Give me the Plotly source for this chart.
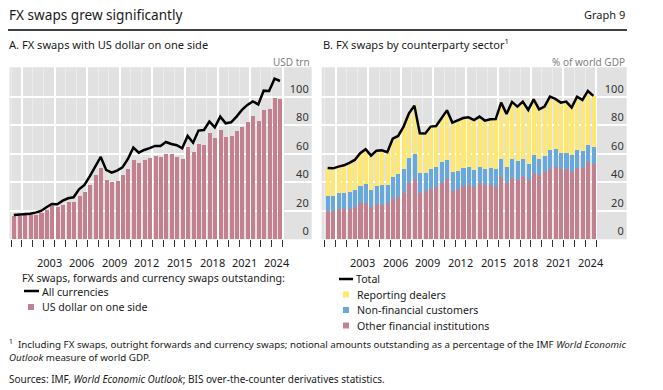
import plotly.graph_objects as go

W, H = 663, 390

# ---------------- data ----------------
years = list(range(2000, 2025))
halves = ["H1", "H2"]
periods = [f"{y}-{h}" for y in years for h in halves]

# Panel A: USD trn
usd_one_side = [15.9, 15.9, 16.6, 16.6, 17.1, 18.0, 20.6, 22.9, 22.2, 24.1,
                25.7, 25.7, 30.4, 32.7, 37.7, 44.7, 49.6, 41.2, 39.8, 40.5,
                44.7, 49.1, 55.2, 53.1, 55.2, 56.6, 58.5, 57.8, 59.9, 59.9,
                57.3, 55.9, 64.3, 60.8, 66.9, 66.2, 74.2, 70.6, 76.7, 71.8,
                72.5, 75.6, 78.4, 81.9, 86.1, 83.0, 90.8, 91.5, 99.2, 98.5]
all_currencies = [17.1, 17.3, 17.8, 18.0, 18.7, 19.9, 22.5, 24.8, 24.6, 27.1,
                  28.8, 29.5, 35.1, 38.1, 44.4, 51.5, 57.8, 48.7, 46.8, 48.2,
                  50.5, 56.4, 64.3, 60.8, 62.7, 64.0, 65.5, 65.5, 68.3, 66.9,
                  66.0, 63.9, 72.5, 67.8, 76.3, 76.7, 82.6, 78.6, 86.1, 81.4,
                  82.1, 86.1, 90.8, 94.3, 96.8, 94.7, 104.3, 104.1, 112.7, 111.1]

# Panel B: % of world GDP
other_financial = [19.9, 19.9, 21.1, 20.8, 20.8, 22.7, 25.0, 25.5, 22.7, 24.8,
                   24.1, 25.5, 28.3, 29.2, 32.5, 39.5, 41.9, 32.5, 33.5, 34.9,
                   36.3, 39.1, 41.9, 33.9, 35.3, 37.4, 37.7, 36.7, 39.1, 37.7,
                   37.7, 36.7, 43.7, 39.1, 43.0, 41.6, 44.4, 41.6, 46.5, 45.1,
                   47.3, 49.4, 50.8, 49.4, 48.9, 47.3, 50.1, 50.1, 54.3, 52.9]
non_financial = [10.5, 10.5, 11.4, 11.7, 12.4, 11.9, 12.4, 13.3, 11.9, 12.6,
                 14.0, 12.6, 15.4, 16.6, 16.9, 17.6, 18.0, 14.0, 13.0, 14.5,
                 14.5, 15.2, 13.8, 13.4, 12.7, 12.7, 13.1, 12.0, 11.7, 11.7,
                 12.4, 12.7, 12.7, 11.7, 13.4, 13.4, 12.0, 11.3, 12.7, 11.3,
                 11.2, 13.3, 12.6, 11.2, 11.7, 11.6, 12.6, 11.9, 11.9, 11.9]
reporting_dealers = [19.7, 19.4, 18.5, 19.4, 20.4, 21.1, 23.0, 24.4, 24.1, 24.8,
                     24.4, 23.0, 26.9, 26.7, 29.7, 31.3, 33.9, 27.9, 27.7, 29.7,
                     28.7, 30.6, 34.8, 34.6, 35.3, 35.0, 34.8, 35.0, 35.3, 33.9,
                     34.1, 35.0, 39.5, 37.2, 40.0, 38.1, 40.2, 37.9, 39.0, 34.8,
                     34.6, 37.4, 35.1, 35.3, 36.0, 33.5, 37.4, 35.8, 37.9, 35.8]
total = [50.1, 49.8, 51.0, 51.9, 53.6, 55.7, 60.4, 63.2, 58.7, 62.2,
         62.5, 61.1, 70.6, 72.5, 79.1, 88.4, 93.8, 74.4, 74.2, 79.1,
         79.5, 84.9, 90.5, 81.9, 83.3, 85.1, 85.6, 83.7, 86.1, 83.3,
         84.2, 84.4, 95.9, 88.0, 96.4, 93.1, 96.6, 90.8, 98.2, 91.2,
         93.1, 100.1, 98.5, 95.9, 96.6, 92.4, 100.1, 97.8, 104.1, 100.6]

year_labels = ["2003", "2006", "2009", "2012", "2015", "2018", "2021", "2024"]
y_ticks = [0, 20, 40, 60, 80, 100]

# ---------------- style ----------------
FONT = "Noto Sans, Open Sans, sans-serif"
BG = "#e1e1e1"
PINK = "#c3808e"
BLUE = "#67a9dd"
YELLOW = "#ffe870"
TXT = "#1a1a1a"

# half-year slot centres on a continuous year axis
xpos = [int(p[:4]) + (0.25 if p.endswith("H1") else 0.75) for p in periods]
BW = 0.37


def px(x):
    return x / W


def py(y):
    return 1 - y / H


fig = go.Figure()

# Panel A
fig.add_trace(go.Bar(x=xpos, y=usd_one_side, width=BW, name="US dollar on one side",
                     marker=dict(color=PINK, line=dict(width=0)),
                     xaxis="x", yaxis="y", showlegend=False))
fig.add_trace(go.Scatter(x=xpos, y=all_currencies, mode="lines", name="All currencies",
                         line=dict(color="black", width=2.5),
                         xaxis="x", yaxis="y", showlegend=False))

# Panel B
fig.add_trace(go.Bar(x=xpos, y=other_financial, width=BW, name="Other financial institutions",
                     marker=dict(color=PINK, line=dict(width=0)),
                     xaxis="x2", yaxis="y2", showlegend=False))
fig.add_trace(go.Bar(x=xpos, y=non_financial, width=BW, name="Non-financial customers",
                     marker=dict(color=BLUE, line=dict(width=0)),
                     xaxis="x2", yaxis="y2", showlegend=False))
fig.add_trace(go.Bar(x=xpos, y=reporting_dealers, width=BW, name="Reporting dealers",
                     marker=dict(color=YELLOW, line=dict(width=0)),
                     xaxis="x2", yaxis="y2", showlegend=False))
fig.add_trace(go.Scatter(x=xpos, y=total, mode="lines", name="Total",
                         line=dict(color="black", width=2.5),
                         xaxis="x2", yaxis="y2", showlegend=False))

year_edges = list(range(2000, 2026))
major_grid = list(range(2001, 2026, 3))


def xaxis_cfg(domain, rng, anchor):
    return dict(domain=domain, range=rng, anchor=anchor,
                tickmode="array", tickvals=major_grid, showticklabels=False,
                ticks="outside", ticklen=7, tickwidth=1.2, tickcolor="#333",
                showgrid=True, gridcolor="white", gridwidth=1.5,
                zeroline=False, showline=False,
                minor=dict(tickmode="array", tickvals=year_edges, ticks="outside",
                           ticklen=7, tickwidth=1.2, tickcolor="#333",
                           showgrid=True, gridcolor="#ececec", gridwidth=1))


def yaxis_cfg(domain, anchor):
    return dict(domain=domain, range=[0, 120.7], anchor=anchor, side="right",
                tickmode="array", tickvals=y_ticks, ticklabelposition="inside top",
                tickfont=dict(size=11, color="#333", family=FONT),
                showgrid=True, gridcolor="white", gridwidth=1.5,
                zeroline=False, showline=False, ticks="")


ydom = [py(239.3), py(67.3)]
fig.update_layout(
    width=W, height=H,
    margin=dict(l=0, r=0, t=0, b=0),
    paper_bgcolor="white", plot_bgcolor=BG,
    barmode="stack", bargap=0,
    font=dict(family=FONT, color=TXT),
    xaxis=xaxis_cfg([px(9.5), px(311.7)], [1999.85, 2027.67], "y"),
    yaxis=yaxis_cfg(ydom, "x"),
    xaxis2=xaxis_cfg([px(321.7), px(626.7)], [1999.70, 2027.83], "y2"),
    yaxis2=yaxis_cfg(ydom, "x2"),
    showlegend=False,
)

ann = []


def text(x, y, s, size, anchor="left", color=TXT, xref="paper"):
    ann.append(dict(x=x if xref != "paper" else px(x), y=py(y), xref=xref, yref="paper",
                    text=s, showarrow=False, xanchor=anchor, yanchor="middle",
                    font=dict(size=size, color=color, family=FONT)))


LEG = 10.6
text(7, 15, "FX swaps grew significantly", 13.6)
text(627, 15, "Graph 9", 11, anchor="right")
text(7, 44, "A. FX swaps with US dollar on one side", 11.1)
text(321, 44, "B. FX swaps by counterparty sector<sup>1</sup>", 11.1)
text(312, 61.5, "USD trn", 10, anchor="right", color="#808080")
text(627, 61.5, "% of world GDP", 10, anchor="right", color="#808080")

for lab in year_labels:
    xv = int(lab) + 0.5
    text(xv, 262.5, lab, 11, anchor="center", xref="x")
    text(xv, 262.5, lab, 11, anchor="center", xref="x2")

# legend texts
text(20, 277.5, "FX swaps, forwards and currency swaps outstanding:", LEG)
text(40, 291.5, "All currencies", LEG)
text(40, 307, "US dollar on one side", LEG)
text(354, 279, "Total", LEG)
text(355, 294.5, "Reporting dealers", LEG)
text(355, 310, "Non-financial customers", LEG)
text(355, 325.5, "Other financial institutions", LEG)

# footnotes
text(7, 344, "<sup>1</sup>  Including FX swaps, outright forwards and currency swaps; notional amounts outstanding as a percentage of the IMF <i>World Economic</i>", 9.75)
text(7, 357.5, "<i>Outlook</i> measure of world GDP.", 9.75)
text(7, 379, "Sources: IMF, <i>World Economic Outlook</i>; BIS over-the-counter derivatives statistics.", 10)

fig.update_layout(annotations=ann)

shapes = [
    dict(type="line", xref="paper", yref="paper", x0=px(8), x1=px(627), y0=py(30), y1=py(30),
         line=dict(color="black", width=1.3)),
    # legend keys panel A
    dict(type="line", xref="paper", yref="paper", x0=px(24), x1=px(39), y0=py(291), y1=py(291),
         line=dict(color="black", width=2.5)),
    dict(type="rect", xref="paper", yref="paper", x0=px(28), x1=px(34), y0=py(310), y1=py(304),
         fillcolor=PINK, line=dict(width=0)),
    # legend keys panel B
    dict(type="line", xref="paper", yref="paper", x0=px(339), x1=px(353), y0=py(279), y1=py(279),
         line=dict(color="black", width=2.5)),
    dict(type="rect", xref="paper", yref="paper", x0=px(343), x1=px(349), y0=py(297.5), y1=py(291.5),
         fillcolor=YELLOW, line=dict(width=0)),
    dict(type="rect", xref="paper", yref="paper", x0=px(343), x1=px(349), y0=py(313), y1=py(307),
         fillcolor=BLUE, line=dict(width=0)),
    dict(type="rect", xref="paper", yref="paper", x0=px(343), x1=px(349), y0=py(328.5), y1=py(322.5),
         fillcolor=PINK, line=dict(width=0)),
]
fig.update_layout(shapes=shapes)

fig.write_html("out.html", config={"displayModeBar": False},
               post_script="document.body.style.margin='0';")
